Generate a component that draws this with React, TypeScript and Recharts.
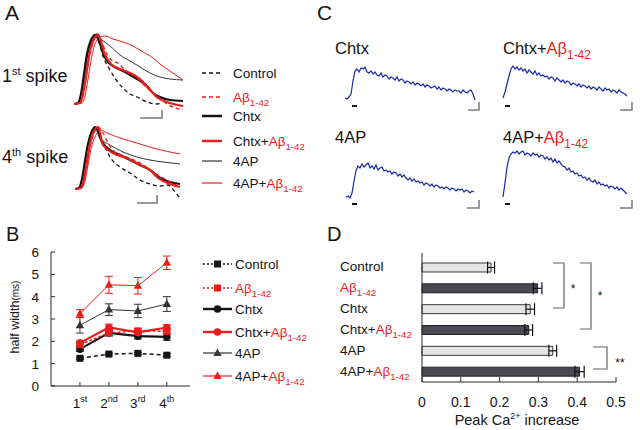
import React from "react";
import { Bar, BarChart, Cell, ErrorBar, Line, LineChart, XAxis, YAxis } from "recharts";

const RED = "#ea1d1d";
const INK = "#141414";
const BLUE = "#1b2aa3";
const SCALE = "#7a7a7a";
const AXIS = "#2b2b2b";
const FONT = "'Liberation Sans', Arial, Helvetica, sans-serif";

// group names shared by panels A, B and D
const GROUPS = ["Control", "Aβ1-42", "Chtx", "Chtx+Aβ1-42", "4AP", "4AP+Aβ1-42"];

// A — spike waveforms, [time, height above baseline]
const A1_CONTROL = [[4,0],[8,1],[11,8],[14,28],[17,48],[21,63],[25,69],[27,70],[29,62],[33,48],[40,34],[47,23],[53,16],[60,10],[67,7],[77,2],[87,0],[92,1]];
const A1_ABETA = [[4,0],[10,1],[13,8],[16,25],[19,45],[23,62],[26,68],[28,70],[33,59],[38,48],[43,43],[48,41],[55,34],[67,26],[77,16],[87,8],[97,0],[113,-6]];
const A1_CHTX = [[4,0],[8,1],[11,10],[14,30],[17,50],[21,64],[25,69],[29,63],[33,51],[38,42],[43,38],[53,33],[60,29],[67,25],[72,22],[77,18],[83,11],[90,7],[100,4],[113,3]];
const A1_CHTX_AB = [[4,0],[10,1],[13,10],[16,28],[19,48],[23,63],[26,68],[28,69],[35,49],[42,39],[50,35],[60,31],[70,25],[80,14],[88,6],[100,1],[113,-2]];
const A1_4AP = [[4,0],[8,1],[11,8],[14,26],[17,46],[21,62],[24,68],[26,70],[32,64],[40,58],[50,49],[60,43],[70,37],[80,31],[90,27],[100,25],[113,24]];
const A1_4AP_AB = [[4,0],[12,1],[15,8],[18,25],[21,43],[24,57],[27,64],[30,67],[35,68],[43,65],[53,62],[63,58],[73,52],[83,46],[90,40],[100,33],[113,24]];

const A4_CONTROL = [[5,0],[9,1],[12,8],[15,26],[18,44],[22,57],[25,61],[27,62],[33,47],[40,32],[50,22],[60,16],[70,9],[80,5],[90,3],[98,4],[105,-3],[110,-9]];
const A4_ABETA = [[5,0],[11,1],[14,8],[17,25],[20,42],[24,56],[27,61],[28,62],[33,56],[38,46],[45,37],[57,32],[70,26],[83,17],[93,11],[110,2]];
const A4_CHTX = [[5,0],[9,1],[12,10],[15,28],[18,45],[22,58],[25,62],[32,47],[40,39],[50,34],[60,29],[70,24],[80,19],[90,11],[100,7],[110,5]];
const A4_CHTX_AB = [[5,0],[11,1],[14,10],[17,28],[20,45],[24,58],[28,62],[33,44],[43,36],[57,31],[70,24],[80,19],[88,11],[100,5],[110,2]];
const A4_4AP = [[5,0],[9,1],[12,9],[15,27],[18,45],[22,58],[25,62],[30,51],[40,44],[53,37],[67,32],[80,29],[93,27],[110,25]];
const A4_4AP_AB = [[5,0],[12,1],[15,8],[18,24],[21,40],[25,52],[28,57],[30,59],[37,56],[50,51],[67,46],[83,41],[100,37],[110,35]];

// B — half width (ms) per spike
const SPIKES = ["1st", "2nd", "3rd", "4th"];
const HW = [
  [1.24, 1.43, 1.46, 1.38],
  [1.85, 2.38, 2.47, 2.45],
  [1.65, 2.38, 2.23, 2.2],
  [1.93, 2.62, 2.4, 2.62],
  [2.72, 3.42, 3.36, 3.67],
  [3.24, 4.53, 4.49, 5.52],
];
const HW_ERR = [
  [0.05, 0.05, 0.05, 0.06],
  [0.1, 0.12, 0.1, 0.12],
  [0.1, 0.14, 0.12, 0.15],
  [0.08, 0.15, 0.12, 0.12],
  [0.35, 0.26, 0.3, 0.33],
  [0.18, 0.38, 0.37, 0.3],
];

// C — Ca2+ traces, sampled every 2 px
const CA_CHTX = [
  1,0,2,5,18,28,30,27,31,30, 32,27,26,28,25,27,24,23,26,22, 24,23,20,22,21,19,22,18,20,19,
  16,18,17,15,17,14,16,15,13,15, 12,14,13,11,12,13,10,12,9,11, 10,8,10,9,7,9,8,8,6,9, 7,6,8,9,5,-1,
];
const CA_CHTX_AB = [
  0,6,14,22,29,32,29,31,28,30, 27,29,25,28,26,24,27,23,25,22, 23,21,22,19,21,20,17,20,18,16,
  18,15,17,16,13,15,14,12,14,11, 13,12,10,12,9,11,10,8,11,9, 7,10,8,9,6,8,7,5,8,6, 5,4,2,
];
const CA_4AP = [
  0,1,-1,4,16,26,31,29,33,30, 32,34,29,31,28,32,27,29,30,26, 27,25,26,23,25,24,21,23,20,22,
  19,17,19,16,18,15,16,14,15,12, 14,13,11,13,10,12,11,9,10,8, 10,9,7,9,8,6,8,7,8,5, 7,6,4,6,5,
];
const CA_4AP_AB = [
  0,14,30,39,43,45,44,46,43,45, 46,42,44,43,41,44,42,43,40,42, 41,38,40,37,39,35,38,34,36,33,
  31,30,27,29,25,26,23,24,21,22, 19,20,17,19,16,15,17,13,15,12, 13,11,12,9,11,10,8,10,7,9, 7,5,3,
];

// D — peak Ca2+ increase
const PEAK = [0.178, 0.298, 0.279, 0.275, 0.337, 0.406];
const PEAK_ERR = [0.009, 0.011, 0.011, 0.01, 0.01, 0.012];

const STYLE = [
  { color: INK, width: 1.3, dash: "4 3", marker: "square" },
  { color: RED, width: 1.3, dash: "4 3", marker: "square" },
  { color: INK, width: 2.2, dash: undefined, marker: "circle" },
  { color: RED, width: 2.2, dash: undefined, marker: "circle" },
  { color: "#333", width: 1, dash: undefined, marker: "triangle" },
  { color: RED, width: 1, dash: undefined, marker: "triangle" },
];
const DRAW_ORDER = [4, 5, 0, 2, 1, 3];
const KEYS = ["control", "abeta", "chtx", "chtxAb", "ap4", "ap4Ab"];

const bData = SPIKES.map((s, i) => {
  const row: any = { x: i + 1, spike: s };
  KEYS.forEach((k, g) => {
    row[k] = HW[g][i];
    row[k + "Err"] = HW_ERR[g][i];
  });
  return row;
});

const dData = GROUPS.map((name, i) => ({ name, value: PEAK[i], err: PEAK_ERR[i] }));

function Marker({ kind, cx, cy, color }: any) {
  if (kind === "square") return <rect x={cx - 3.5} y={cy - 3.5} width={7} height={7} fill={color} />;
  if (kind === "circle") return <circle cx={cx} cy={cy} r={3.8} fill={color} />;
  return <polygon points={`${cx},${cy - 4.6} ${cx + 4.2},${cy + 3} ${cx - 4.2},${cy + 3}`} fill={color} />;
}

function Label({ x, y, name, size }: any) {
  const i = name.indexOf("Aβ");
  const head = i < 0 ? name : name.slice(0, i);
  return (
    <text x={x} y={y} fontSize={size} fill={INK} fontFamily={FONT}>
      {head}
      {i >= 0 && <tspan fill={RED}>Aβ</tspan>}
      {i >= 0 && (
        <tspan fill={RED} fontSize={size * 0.72} dy={size * 0.3}>
          {name.slice(i + 2)}
        </tspan>
      )}
    </text>
  );
}

function SpikeChart({ traces, top, domain }: any) {
  return (
    <div style={{ position: "absolute", left: 70, top }}>
      <LineChart width={120} height={96} margin={{ top: 0, right: 0, bottom: 0, left: 0 }}>
        <XAxis type="number" dataKey="t" domain={[0, 120]} allowDataOverflow hide />
        <YAxis type="number" domain={domain} allowDataOverflow hide />
        {DRAW_ORDER.map((g) => (
          <Line
            key={g}
            data={traces[g].map(([t, v]: number[]) => ({ t, v }))}
            dataKey="v"
            type="monotone"
            stroke={STYLE[g].color}
            strokeWidth={STYLE[g].width}
            strokeDasharray={STYLE[g].dash}
            dot={false}
            activeDot={false}
            isAnimationActive={false}
          />
        ))}
      </LineChart>
    </div>
  );
}

function CaTrace({ values, start, left, top, height, domain }: any) {
  const data = values.map((v: number, i: number) => ({ t: start + i * 2, v }));
  return (
    <div style={{ position: "absolute", left, top }}>
      <LineChart width={140} height={height} data={data} margin={{ top: 0, right: 0, bottom: 0, left: 0 }}>
        <XAxis type="number" dataKey="t" domain={[0, 140]} allowDataOverflow hide />
        <YAxis type="number" domain={domain} allowDataOverflow hide />
        <Line dataKey="v" type="linear" stroke={BLUE} strokeWidth={1.2} dot={false} activeDot={false} isAnimationActive={false} />
      </LineChart>
    </div>
  );
}

const BXTick = ({ x, y, payload }: any) => {
  const s = SPIKES[payload.value - 1];
  return (
    <g>
      <line x1={x} x2={x} y1={y - 4} y2={y} stroke={AXIS} />
      <text x={x} y={y + 22} textAnchor="middle" fontSize={13.5} fill={INK} fontFamily={FONT}>
        {s[0]}
        <tspan fontSize={9} dy={-6}>{s.slice(1)}</tspan>
      </text>
    </g>
  );
};

const BYTick = ({ x, y, payload }: any) => (
  <g>
    <line x1={x} x2={x + 4} y1={y} y2={y} stroke={AXIS} />
    <text x={x - 12} y={y + 5} textAnchor="end" fontSize={13.5} fill={INK} fontFamily={FONT}>
      {payload.value}
    </text>
  </g>
);

const DXTick = ({ x, y, payload }: any) => (
  <g>
    <line x1={x} x2={x} y1={y - 5} y2={y} stroke={AXIS} />
    <text x={x} y={y + 25} textAnchor="middle" fontSize={14} fill={INK} fontFamily={FONT}>
      {payload.value}
    </text>
  </g>
);

const DYTick = ({ x, y, payload }: any) => <Label x={x - 82} y={y + 4} name={payload.value} size={13.5} />;

const LEGEND_A_Y = [73, 97, 116, 141, 161, 183];
const LEGEND_B_Y = [264, 288, 309, 332, 353, 376];

export default function App() {
  return (
    <div
      style={{
        position: "absolute",
        left: 0,
        top: 0,
        width: 640,
        height: 430,
        background: "#fff",
        overflow: "hidden",
        fontFamily: FONT,
      }}
    >
      {/* A */}
      <SpikeChart
        top={28}
        domain={[-20, 76]}
        traces={[A1_CONTROL, A1_ABETA, A1_CHTX, A1_CHTX_AB, A1_4AP, A1_4AP_AB]}
      />
      <SpikeChart
        top={118}
        domain={[-25, 71]}
        traces={[A4_CONTROL, A4_ABETA, A4_CHTX, A4_CHTX_AB, A4_4AP, A4_4AP_AB]}
      />

      {/* B */}
      <div style={{ position: "absolute", left: 0, top: 245 }}>
        <LineChart width={190} height={175} data={bData} margin={{ top: 7, right: 0, bottom: 0, left: 0 }}>
          <XAxis
            type="number"
            dataKey="x"
            domain={[0, 4.8]}
            allowDataOverflow
            ticks={[1, 2, 3, 4]}
            interval={0}
            height={34}
            tickSize={0}
            tickMargin={0}
            tickLine={false}
            axisLine={{ stroke: AXIS }}
            tick={BXTick}
          />
          <YAxis
            type="number"
            domain={[0, 6]}
            ticks={[0, 1, 2, 3, 4, 5, 6]}
            interval={0}
            width={51}
            tickSize={0}
            tickMargin={0}
            tickLine={false}
            axisLine={{ stroke: AXIS }}
            tick={BYTick}
          />
          {DRAW_ORDER.map((g) => (
            <Line
              key={g}
              dataKey={KEYS[g]}
              type="linear"
              stroke={STYLE[g].color}
              strokeWidth={g < 2 ? 1.5 : STYLE[g].width}
              strokeDasharray={g === 0 ? "4 3" : g === 1 ? "3 2" : undefined}
              dot={(p: any) => <Marker key={p.index} kind={STYLE[g].marker} cx={p.cx} cy={p.cy} color={STYLE[g].color} />}
              activeDot={false}
              isAnimationActive={false}
            >
              <ErrorBar dataKey={KEYS[g] + "Err"} direction="y" width={4} stroke={STYLE[g].color} strokeWidth={1} />
            </Line>
          ))}
        </LineChart>
      </div>

      {/* C */}
      <CaTrace values={CA_CHTX} start={5} left={340} top={60} height={50} domain={[-11, 39]} />
      <CaTrace values={CA_CHTX_AB} start={3} left={500} top={60} height={50} domain={[-12, 38]} />
      <CaTrace values={CA_4AP} start={6} left={340} top={155} height={50} domain={[-8, 42]} />
      <CaTrace values={CA_4AP_AB} start={3} left={500} top={148} height={57} domain={[-8, 49]} />

      {/* D */}
      <div style={{ position: "absolute", left: 320, top: 250 }}>
        <BarChart layout="vertical" width={316} height={180} data={dData} margin={{ top: 7, right: 20, bottom: 0, left: 0 }}>
          <XAxis
            type="number"
            domain={[0, 0.5]}
            ticks={[0, 0.1, 0.2, 0.3, 0.4, 0.5]}
            interval={0}
            height={48}
            tickSize={0}
            tickMargin={0}
            tickLine={false}
            axisLine={{ stroke: AXIS }}
            tick={DXTick}
          />
          <YAxis
            type="category"
            dataKey="name"
            width={102}
            interval={0}
            tickSize={0}
            tickMargin={0}
            tickLine={false}
            axisLine={false}
            tick={DYTick}
          />
          <Bar dataKey="value" barSize={9} isAnimationActive={false}>
            {dData.map((_, i) => (
              <Cell
                key={i}
                fill={i % 2 === 0 ? "#e4e4e4" : "#4a4a52"}
                stroke={i % 2 === 0 ? "#3a3a3a" : "#222"}
                strokeWidth={1}
              />
            ))}
            <ErrorBar dataKey="err" direction="x" width={6} stroke="#111" strokeWidth={1.2} />
          </Bar>
        </BarChart>
      </div>

      {/* labels, legends, scale bars and annotations */}
      <svg width={640} height={430} style={{ position: "absolute", left: 0, top: 0, pointerEvents: "none" }}>
        <g fontFamily={FONT} fill={INK}>
          <text x={5} y={20} fontSize={21}>A</text>
          <text x={6} y={241} fontSize={20}>B</text>
          <text x={317} y={20} fontSize={21}>C</text>
          <text x={327} y={241} fontSize={20}>D</text>

          <text x={2} y={82} fontSize={18}>
            1<tspan fontSize={11} dy={-7}>st</tspan>
            <tspan dy={7}> spike</tspan>
          </text>
          <text x={2} y={163} fontSize={18}>
            4<tspan fontSize={11} dy={-7}>th</tspan>
            <tspan dy={7}> spike</tspan>
          </text>

          <text x={335} y={54} fontSize={16.5}>Chtx</text>
          <Label x={503} y={54} name="Chtx+Aβ1-42" size={16.5} />
          <text x={335} y={143} fontSize={16.5}>4AP</text>
          <Label x={503} y={143} name="4AP+Aβ1-42" size={16.5} />

          <text transform="translate(19,317) rotate(-90)" textAnchor="middle" fontSize={12.5}>
            half width<tspan fontSize={10}>(ms)</tspan>
          </text>

          <text x={517} y={425} textAnchor="middle" fontSize={14.5}>
            Peak Ca<tspan fontSize={9} dy={-6}>2+</tspan>
            <tspan dy={6}> increase</tspan>
          </text>

          <text x={573} y={293} textAnchor="middle" fontSize={12}>*</text>
          <text x={600} y={300} textAnchor="middle" fontSize={12}>*</text>
          <text x={620} y={367} textAnchor="middle" fontSize={12}>**</text>
        </g>

        {/* legend A */}
        {LEGEND_A_Y.map((y, i) => (
          <g key={"la" + i}>
            <line
              x1={202}
              x2={222}
              y1={y}
              y2={y}
              stroke={STYLE[i].color}
              strokeWidth={i === 2 || i === 3 ? 2.5 : STYLE[i].width + 0.2}
              strokeDasharray={STYLE[i].dash}
            />
            <Label x={233} y={y + 5} name={GROUPS[i]} size={13.5} />
          </g>
        ))}

        {/* legend B */}
        {LEGEND_B_Y.map((y, i) => (
          <g key={"lb" + i}>
            <line
              x1={203}
              x2={232}
              y1={y}
              y2={y}
              stroke={STYLE[i].color}
              strokeWidth={i < 2 ? 1.5 : STYLE[i].width + 0.2}
              strokeDasharray={i < 2 ? "2 2" : undefined}
            />
            <Marker kind={STYLE[i].marker} cx={217.5} cy={y} color={STYLE[i].color} />
            <Label x={235} y={y + 5} name={GROUPS[i]} size={13.5} />
          </g>
        ))}

        <g fill="none" stroke={SCALE} strokeWidth={1.5}>
          <path d="M140 118 H162 V110" />
          <path d="M137 203 H157 V195" />
          <path d="M468 110 H479 V102" />
          <path d="M620 110 H632 V102" />
          <path d="M467 208 H479 V200" />
          <path d="M620 208 H632 V200" />
        </g>
        <g stroke={INK} strokeWidth={2}>
          <line x1={352} x2={357} y1={106} y2={106} />
          <line x1={505} x2={510} y1={106} y2={106} />
          <line x1={352} x2={357} y1={204} y2={204} />
          <line x1={505} x2={510} y1={204} y2={204} />
        </g>

        <line x1={422} x2={422} y1={253} y2={382} stroke={AXIS} />
        <g fill="none" stroke="#666" strokeWidth={1.2}>
          <path d="M553 263 H564 V308 H553" />
          <path d="M580 263 H591 V329 H580" />
          <path d="M593 347 H607 V369 H593" />
        </g>
      </svg>
    </div>
  );
}
